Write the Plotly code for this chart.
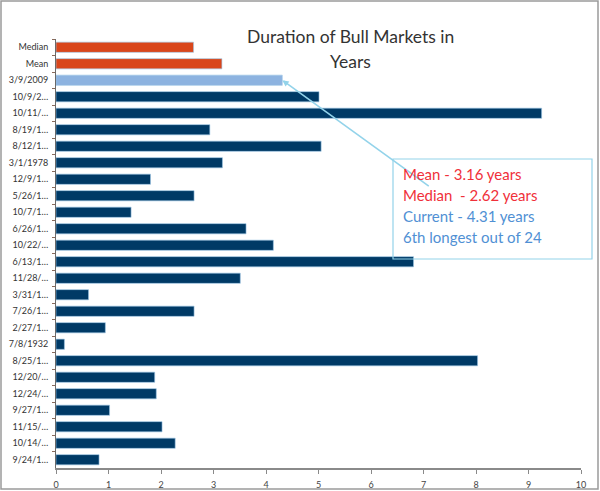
import plotly.graph_objects as go

# bull market start dates (truncated as in the source chart), top to bottom
labels = ["Median", "Mean", "3/9/2009", "10/9/2…", "10/11/…", "8/19/1…", "8/12/1…",
          "3/1/1978", "12/9/1…", "5/26/1…", "10/7/1…", "6/26/1…", "10/22/…",
          "6/13/1…", "11/28/…", "3/31/1…", "7/26/1…", "2/27/1…", "7/8/1932",
          "8/25/1…", "12/20/…", "12/24/…", "9/27/1…", "11/15/…", "10/14/…", "9/24/1…"]
years = [2.62, 3.16, 4.31, 5.01, 9.25, 2.93, 5.05,
         3.17, 1.80, 2.63, 1.43, 3.62, 4.14,
         6.81, 3.51, 0.62, 2.63, 0.94, 0.16,
         8.03, 1.88, 1.91, 1.02, 2.02, 2.27, 0.82]

mean_val = 3.16
median_val = 2.62
current_val = 4.31

ORANGE = "#d9461b"
LIGHT = "#8db3e0"
NAVY = "#003a66"
BOXLINE = "#93d3ea"
RED = "#f0303a"
BLUE = "#5090d4"

colors = []
for lab in labels:
    if lab in ("Median", "Mean"):
        colors.append(ORANGE)
    elif lab == "3/9/2009":
        colors.append(LIGHT)
    else:
        colors.append(NAVY)

W, H = 600, 491
L, R, T, B = 56, 19, 39, 23

def px(x, y):
    # pixel position -> paper coords
    return (x - L) / (W - L - R), (H - B - y) / (H - T - B)

fig = go.Figure()
fig.add_trace(go.Bar(
    x=years, y=labels, orientation="h",
    marker=dict(color=colors, line=dict(color="#9cc6e6", width=0.6)),
    width=0.62, showlegend=False, hoverinfo="x+y",
))

shapes = []
# outer frame
fx0, fy0 = px(1, 489)
fx1, fy1 = px(598, 1)
shapes.append(dict(type="rect", xref="paper", yref="paper", x0=fx0, y0=fy0, x1=fx1, y1=fy1,
                   line=dict(color="#9a9a9a", width=1.5), layer="below"))
# callout box
bx0, by0 = px(393, 259)
bx1, by1 = px(592, 159)
shapes.append(dict(type="rect", xref="paper", yref="paper", x0=bx0, y0=by0, x1=bx1, y1=by1,
                   line=dict(color=BOXLINE, width=1.2)))

annotations = []
tx, ty1 = px(350, 37)
_, ty2 = px(350, 62)
annotations.append(dict(text="Duration of Bull Markets in", xref="paper", yref="paper",
                        x=tx, y=ty1, xanchor="center", yanchor="middle", showarrow=False,
                        font=dict(family="Lato", size=17.5, color="#333333")))
annotations.append(dict(text="Years", xref="paper", yref="paper",
                        x=tx, y=ty2, xanchor="center", yanchor="middle", showarrow=False,
                        font=dict(family="Lato", size=17.5, color="#333333")))

# pointer line from current bar to the box
annotations.append(dict(text="", x=current_val, y="3/9/2009", xref="x", yref="y",
                        showarrow=True, ax=148, ay=107, arrowhead=2, arrowsize=0.8,
                        arrowwidth=1.6, arrowcolor=BOXLINE, standoff=0))

box_lines = [
    ("Mean - %.2f years" % mean_val, RED, 174),
    ("Median  - %.2f years" % median_val, RED, 195),
    ("Current - %.2f years" % current_val, BLUE, 216),
    ("6th longest out of 24", BLUE, 237),
]
for txt, col, ypix in box_lines:
    ax_, ay_ = px(401, ypix)
    annotations.append(dict(text=txt, xref="paper", yref="paper", x=ax_, y=ay_,
                            xanchor="left", yanchor="middle", showarrow=False,
                            font=dict(family="Lato", size=15, color=col)))

fig.update_layout(
    width=W, height=H,
    margin=dict(l=L, r=R, t=T, b=B, autoexpand=False),
    paper_bgcolor="white", plot_bgcolor="white",
    font=dict(family="Lato", color="#333333"),
    bargap=0.38,
    shapes=shapes,
    annotations=annotations,
)
fig.update_xaxes(range=[0, 10], dtick=1, showgrid=False, zeroline=False, automargin=False,
                 showline=True, linecolor="#8a8a8a", linewidth=1.5,
                 ticks="outside", ticklen=4, tickcolor="#8a8a8a",
                 tickfont=dict(size=9, color="#444444"), ticklabelstandoff=3)
fig.update_yaxes(range=[len(labels) - 0.5, -0.5], autorange=False, automargin=False,
                 showgrid=False, zeroline=False,
                 showline=True, linecolor="#6a6a6a", linewidth=1,
                 ticks="outside", ticklen=3, tickcolor="#8a6a5a", tickson="boundaries",
                 tickfont=dict(size=9, color="#333333"), ticklabelstandoff=5)

# drop the browser's default body margin so the figure sits at the page corner
fig.write_html("out.html", config={"displayModeBar": False},
               post_script="document.body.style.margin='0';")
